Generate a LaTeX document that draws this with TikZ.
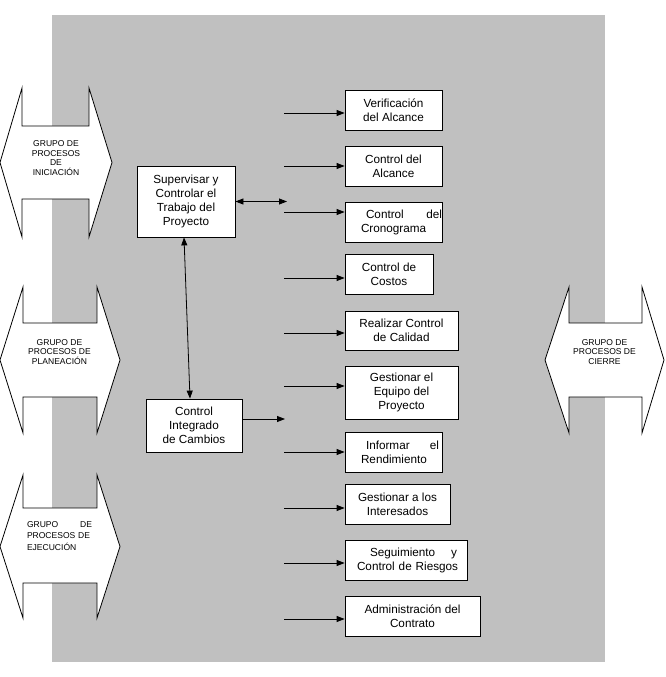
\documentclass[tikz,border=0pt]{standalone}
\usepackage{fontspec}
\setmainfont{Liberation Sans}
\usetikzlibrary{arrows.meta, positioning}

\definecolor{panelgray}{RGB}{192,192,192}

\tikzset{
  procbox/.style={draw, fill=white, line width=0.6pt, inner sep=0pt, align=center,
    font=\fontsize{8.8}{10.5}\selectfont},
  grptext/.style={inner sep=0pt, align=center, font=\fontsize{6.4}{7.3}\selectfont},
  grparrow/.style={draw, fill=white, line width=0.6pt},
  link/.style={line width=0.6pt, -{Triangle[length=6pt,width=4.5pt]}},
  biglink/.style={line width=0.6pt, {Triangle[length=6pt,width=4.5pt]}-{Triangle[length=6pt,width=4.5pt]}}
}

\begin{document}
\begin{tikzpicture}[x=0.75pt, y=-0.75pt]
    \useasboundingbox (0,0) rectangle (665,677);
    % Gray panel
    \fill [panelgray] (52,15) rectangle (605,662);

    % Process group arrows
    \draw [grparrow] (0,162.5) -- (22,88) -- (22,126) -- (89,126) -- (89,88) -- (112,162.5)
      -- (89,237) -- (89,199) -- (22,199) -- (22,237) -- cycle;
    \draw [grparrow] (0,360) -- (23,287) -- (23,323) -- (97,323) -- (97,287) -- (120,360)
      -- (97,433) -- (97,397) -- (23,397) -- (23,433) -- cycle;
    \draw [grparrow] (0,546.5) -- (23,475) -- (23,508) -- (97,508) -- (97,475) -- (120,546.5)
      -- (97,618) -- (97,583) -- (23,583) -- (23,618) -- cycle;
    \draw [grparrow] (545,360) -- (569,287) -- (569,323) -- (642,323) -- (642,287) -- (664,360)
      -- (642,433) -- (642,397) -- (569,397) -- (569,433) -- cycle;

    \node [grptext] (grpini) at (56,158) {GRUPO DE\\PROCESOS\\DE\\INICIACIÓN};
    \node [grptext] (grpplan) at (59.5,352) {GRUPO DE\\PROCESOS DE\\PLANEACIÓN};
    \node [grptext, align=left, text width=48.75pt, font=\fontsize{6.4}{8.4}\selectfont]
      (grpejec) at (59.5,536) {GRUPO\hfill DE\\PROCESOS DE\\EJECUCIÓN};
    \node [grptext] (grpcierre) at (604.5,352) {GRUPO DE\\PROCESOS DE\\CIERRE};

    % Main boxes
    \node [procbox, minimum width=73.5pt, minimum height=53.25pt] (sup) at (186,201.5)
      {Supervisar y\\Controlar el\\Trabajo del\\Proyecto};
    \node [procbox, minimum width=72pt, minimum height=39.75pt] (cic) at (194,425.5)
      {Control\\Integrado\\de Cambios};

    % Control processes
    \node [procbox, minimum width=72.75pt, minimum height=30pt] (proc1) at (393.5,110)
      {Verificación\\del Alcance};
    \node [procbox, minimum width=72.75pt, minimum height=30pt] (proc2) at (393.5,166)
      {Control del\\Alcance};
    \node [procbox, minimum width=72.75pt, minimum height=30pt, text width=72.75pt, align=left]
      (proc3) at (393.5,222)
      {\hspace*{15.75pt}Control\hfill del\\\hspace*{12pt}Cronograma};
    \node [procbox, minimum width=66pt, minimum height=30pt] (proc4) at (389,274)
      {Control de\\Costos};
    \node [procbox, minimum width=84.75pt, minimum height=29.25pt] (proc5) at (401.5,330.5)
      {Realizar Control\\de Calidad};
    \node [procbox, minimum width=84.75pt, minimum height=39.75pt] (proc6) at (401.5,392.5)
      {Gestionar el\\Equipo del\\Proyecto};
    \node [procbox, minimum width=72.75pt, minimum height=30pt, text width=72.75pt, align=left]
      (proc7) at (393.5,452)
      {\hspace*{15.75pt}Informar\hfill el\kern2.25pt\\\hspace*{12pt}Rendimiento};
    \node [procbox, minimum width=78.75pt, minimum height=30pt] (proc8) at (397.5,504)
      {Gestionar a los\\Interesados};
    \node [procbox, minimum width=91.5pt, minimum height=30pt, text width=91.5pt, align=left]
      (proc9) at (406,560)
      {\hspace*{18.75pt}Seguimiento\hfill y\kern7.5pt\\\hspace*{9pt}Control de Riesgos};
    \node [procbox, minimum width=101.25pt, minimum height=30pt] (proc10) at (412.5,616)
      {Administración del\\Contrato};

    % Connectors
    \coordinate (supend) at (287,202);
    \draw [biglink] (sup.east) -- (sup.east -| supend);
    \draw [biglink] ([xshift=-1.5pt]sup.south) -- ([xshift=-3pt]cic.north);
    \coordinate (cicend) at (285,419);
    \draw [link] (cic.east |- cicend) -- (cicend);

    \foreach \n/\y in {1/113, 2/166, 3/212, 4/278, 5/333, 6/386, 7/452, 8/508, 9/563, 10/619} {
      \coordinate (src\n) at (284,\y);
      \draw [link] (src\n) -- (src\n -| proc\n.west);
    }
  \end{tikzpicture}
\end{document}
